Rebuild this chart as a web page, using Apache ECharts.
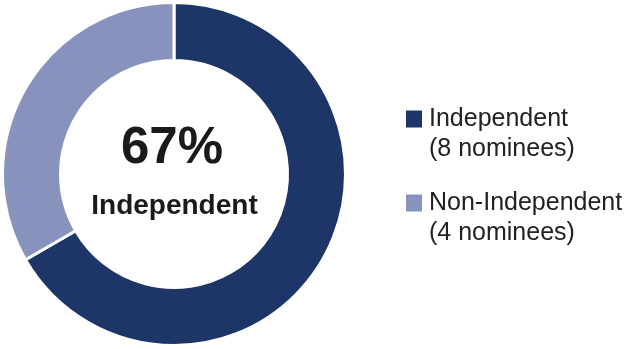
<!DOCTYPE html>
<html><head><meta charset="utf-8">
<script src="https://cdn.jsdelivr.net/npm/echarts@6/dist/echarts.min.js"></script>
<style>html,body{margin:0;padding:0;background:#fff}#c{width:627px;height:349px}</style>
</head><body><div id="c"></div>
<script>
var categories = ['Independent', 'Non-Independent'];
var nominees = [8, 4];
var colors = ['#1d3567', '#8792bd'];
var centerLabel = 'Independent';

var total = nominees.reduce(function(a,b){return a+b;},0);
var pct = Math.round(nominees[0] / total * 100) + '%';
var FONT = '"Liberation Sans", Arial, Helvetica, sans-serif';

var chart = echarts.init(document.getElementById('c'), null, {renderer:'canvas'});
chart.setOption({
  animation: false,
  backgroundColor: '#fff',
  color: colors,
  graphic: [
    {type: 'text', x: 172, y: 148.5, silent: true,
     style: {text: pct, fill: '#1a1a1a', font: 'bold 51px ' + FONT, textAlign: 'center', textVerticalAlign: 'middle'}},
    {type: 'text', x: 174.5, y: 206.5, silent: true,
     style: {text: centerLabel, fill: '#1a1a1a', font: 'bold 28px ' + FONT, textAlign: 'center', textVerticalAlign: 'middle'}}
  ],
  legend: {
    orient: 'vertical', left: 401, top: 104, padding: 0, icon: 'none', itemGap: 24,
    itemWidth: 0, itemHeight: 0,
    data: categories,
    formatter: function(name){
      var i = categories.indexOf(name);
      return '{s' + i + '|}{t|' + name + '}\n{sp|}{t|(' + nominees[i] + ' nominees)}';
    },
    textStyle: {
      fontFamily: FONT, fontSize: 25, color: '#222', lineHeight: 30,
      rich: {
        s0: {width: 16, height: 17, backgroundColor: colors[0]},
        s1: {width: 16, height: 17, backgroundColor: colors[1]},
        sp: {width: 16},
        t: {fontFamily: FONT, fontSize: 25, color: '#222', lineHeight: 30, padding: [0,0,0,7]}
      }
    }
  },
  series: [{
    type: 'pie',
    center: [174, 174],
    radius: [113.5, 171.5],
    startAngle: 90,
    clockwise: true,
    label: {show: false},
    labelLine: {show: false},
    emphasis: {disabled: true},
    itemStyle: {borderColor: '#fff', borderWidth: 3},
    data: categories.map(function(c, i){ return {name: c, value: nominees[i]}; })
  }]
});
</script></body></html>
